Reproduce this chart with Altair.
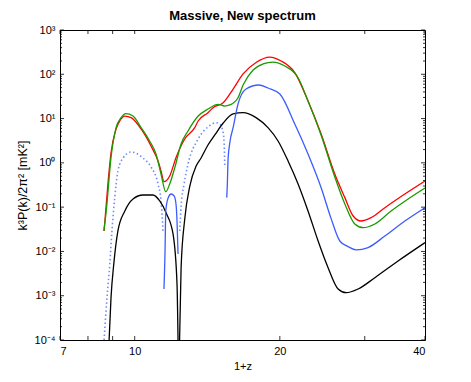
import altair as alt
import pandas as pd

# ---- data (1+z, k^3P/2pi^2 in mK^2) ----
red_x = [8.64, 8.81, 8.93, 9.15, 9.31, 9.54, 9.83, 10.31, 10.81, 11.18, 11.34, 11.50, 11.82, 12.18, 12.70,
         13.32, 13.54, 14.19, 14.54, 15.26, 16.00, 16.78, 17.85, 19.06, 20.12, 21.48, 22.88, 24.36,
         26.0, 27.28, 28.38, 29.48, 30.92, 33.02, 36.33, 40.0]
red_y = [0.029, 0.39, 1.67, 5.82, 8.81, 11.4, 10.5, 5.82, 2.40, 1.10, 0.655, 0.376, 0.506, 1.31, 3.46,
         6.23, 8.81, 13.6, 17.6, 22.8, 46.5, 102, 185, 245, 200, 109, 24.9, 4.48,
         0.561, 0.164, 0.0631, 0.0487, 0.0578, 0.0972, 0.198, 0.39]

green_x = [8.63, 8.73, 8.93, 9.15, 9.37, 9.59, 9.92, 10.31, 10.74, 11.07, 11.34, 11.60, 11.82, 12.11, 12.48,
           12.90, 13.54, 14.19, 14.89, 15.38, 15.75, 16.38, 16.78, 17.60, 18.46, 19.36, 20.48, 21.82, 22.88,
           24.36, 26.0, 27.28, 28.61, 29.77, 31.48, 34.02, 36.90, 40.0]
green_y = [0.029, 0.0819, 1.31, 6.23, 10.5, 12.9, 11.4, 6.23, 3.12, 1.59, 0.561, 0.223, 0.333, 0.778, 2.67,
           5.25, 11.4, 16.4, 21.0, 19.2, 20.3, 29.6, 57.0, 125, 171, 189, 154, 83.7, 24.9,
           4.2, 0.48, 0.118, 0.0417, 0.0344, 0.0417, 0.0819, 0.153, 0.271]

blue1_x = [11.50, 11.56, 11.60, 11.73, 11.90, 12.07, 12.18, 12.24, 12.30]
blue1_y = [0.00142, 0.0102, 0.0819, 0.161, 0.198, 0.179, 0.118, 0.0487, 0.00876]
blue2_x = [15.52, 15.56, 15.62, 15.77, 16.00, 16.38, 17.02, 18.09, 18.9, 20.0, 21.48, 22.88, 24.36, 25.55,
           26.63, 27.71, 28.79, 30.48, 33.02, 36.33, 40.0]
blue2_y = [0.164, 0.30, 1.22, 3.12, 6.23, 21.3, 46.5, 57.3, 49.0, 35.9, 7.54, 1.59, 0.275, 0.055,
           0.0172, 0.0128, 0.0108, 0.0122, 0.0223, 0.0487, 0.0972]

dot1_x = [8.64, 8.76, 8.88, 8.97, 9.09, 9.23, 9.46, 9.83, 10.40, 10.81, 11.18, 11.34, 11.45]
dot1_y = [0.0001, 0.000889, 0.00521, 0.029, 0.161, 0.655, 1.29, 1.76, 1.29, 0.807, 0.333, 0.138, 0.029]
dot2_x = [12.40, 12.48, 12.66, 12.90, 13.54, 14.19, 14.75, 15.01, 15.26, 15.33, 15.38]
dot2_y = [0.029, 0.106, 0.333, 0.944, 3.46, 6.46, 8.07, 7.54, 4.80, 2.67, 0.778]

black1_x = [8.85, 8.93, 9.05, 9.23, 9.54, 9.92, 10.40, 10.91, 11.27, 11.62, 12.01, 12.24, 12.30]
black1_y = [0.0001, 0.000889, 0.00521, 0.029, 0.0819, 0.153, 0.188, 0.188, 0.138, 0.0738, 0.0248, 0.00184, 0.0001]
black2_x = [12.39, 12.48, 12.70, 13.01, 13.41, 13.73, 14.19, 14.66, 15.26, 16.0, 16.78, 17.85,
            18.90, 19.83, 20.80, 21.82, 22.88, 24.01, 25.18, 26.42, 27.45, 29.07, 31.48, 35.17, 40.0]
black2_y = [0.0001, 0.00423, 0.054, 0.30, 0.85, 1.29, 2.53, 4.26, 7.94, 12.7, 13.6, 10.5,
            6.23, 3.12, 1.10, 0.333, 0.0819, 0.0172, 0.0043, 0.00142, 0.00117, 0.00142, 0.00255, 0.00608, 0.0158]

x_tick_labels = [7, 10, 20, 40]
x_minor = [8, 9, 30]
y_decades = [1e-4, 1e-3, 1e-2, 1e-1, 1e0, 1e1, 1e2, 1e3]
sup = {-4: "⁻⁴", -3: "⁻³", -2: "⁻²", -1: "⁻¹", 0: "⁰", 1: "¹", 2: "²", 3: "³"}

W, H = 365, 310


def frame(series, xs, ys, seg):
    return pd.DataFrame({"x": xs, "y": ys, "series": series, "seg": seg, "i": range(len(xs))})


solid = pd.concat([
    frame("black", black1_x, black1_y, "b1"),
    frame("black", black2_x, black2_y, "b2"),
    frame("blue", blue1_x, blue1_y, "u1"),
    frame("blue", blue2_x, blue2_y, "u2"),
    frame("red", red_x, red_y, "r"),
    frame("green", green_x, green_y, "g"),
])
dotted = pd.concat([
    frame("blue", dot1_x, dot1_y, "d1"),
    frame("blue", dot2_x, dot2_y, "d2"),
])

xs = alt.Scale(type="log", domain=[7, 40], nice=False)
ys = alt.Scale(type="log", domain=[1e-4, 1e3], nice=False)
cscale = alt.Scale(domain=["black", "blue", "red", "green"],
                   range=["#000000", "#3c5cff", "#ff0000", "#1a9a00"])

label_expr = "'10' + (" + " : ".join(
    f"round(log(datum.value)/LN10) == {k} ? '{v}'" for k, v in sup.items()) + " : '')"

x_axis = alt.Axis(values=x_tick_labels, format="d", ticks=False, domain=False, grid=False,
                  labelPadding=5, title="1+z", titlePadding=4, titleFontSize=11)
y_axis = alt.Axis(values=y_decades, labelExpr=label_expr, ticks=False, domain=False, grid=False,
                  labelPadding=5, title="k³P(k)/2π² [mK²]", titlePadding=5, titleFontSize=12.5)

dot_layer = alt.Chart(dotted).mark_line(clip=True, strokeWidth=1.6, strokeDash=[1.5, 2.5],
                                        color="#5577ff", opacity=0.85, interpolate="monotone").encode(
    x=alt.X("x:Q", scale=xs, axis=x_axis),
    y=alt.Y("y:Q", scale=ys, axis=y_axis),
    detail="seg:N", order="i:Q")

series_layers = []
for s in ["black", "blue", "red", "green"]:
    series_layers.append(
        alt.Chart(solid[solid.series == s]).mark_line(clip=True, strokeWidth=1.3,
                                                      interpolate="monotone").encode(
            x=alt.X("x:Q", scale=xs),
            y=alt.Y("y:Q", scale=ys),
            color=alt.Color("series:N", scale=cscale, legend=None),
            detail="seg:N", order="i:Q"))

# inward ticks on all four sides
xt = pd.DataFrame({"v": x_tick_labels + x_minor})
minor_y = [m * d for d in y_decades[:-1] for m in range(2, 10)]
ytm = pd.DataFrame({"v": y_decades})
ytn = pd.DataFrame({"v": minor_y})


def xticks(y0, y1):
    return alt.Chart(xt).mark_rule(color="black", strokeWidth=0.8).encode(
        x=alt.X("v:Q", scale=xs), y=alt.value(y0), y2=alt.value(y1))


def yticks(df, x0, x1):
    return alt.Chart(df).mark_rule(color="black", strokeWidth=0.8).encode(
        y=alt.Y("v:Q", scale=ys), x=alt.value(x0), x2=alt.value(x1))


ticks = [xticks(H, H - 4), xticks(0, 4),
         yticks(ytm, 0, 4), yticks(ytm, W, W - 4),
         yticks(ytn, 0, 2), yticks(ytn, W, W - 2)]

chart = alt.layer(dot_layer, *series_layers, *ticks).properties(
    width=W, height=H,
    padding={"left": 8, "top": 2, "right": 5, "bottom": 3},
    title=alt.Title("Massive, New spectrum", fontSize=13, fontWeight="bold", font="Liberation Sans",
                    offset=1, anchor="middle"),
).configure_view(stroke="black", strokeWidth=1).configure_axis(
    labelFont="Liberation Sans", titleFont="Liberation Sans", labelFontSize=11,
    titleFontWeight="normal", labelColor="black", titleColor="black",
)

chart.save("out.html", embed_options={"renderer": "svg", "actions": False})
